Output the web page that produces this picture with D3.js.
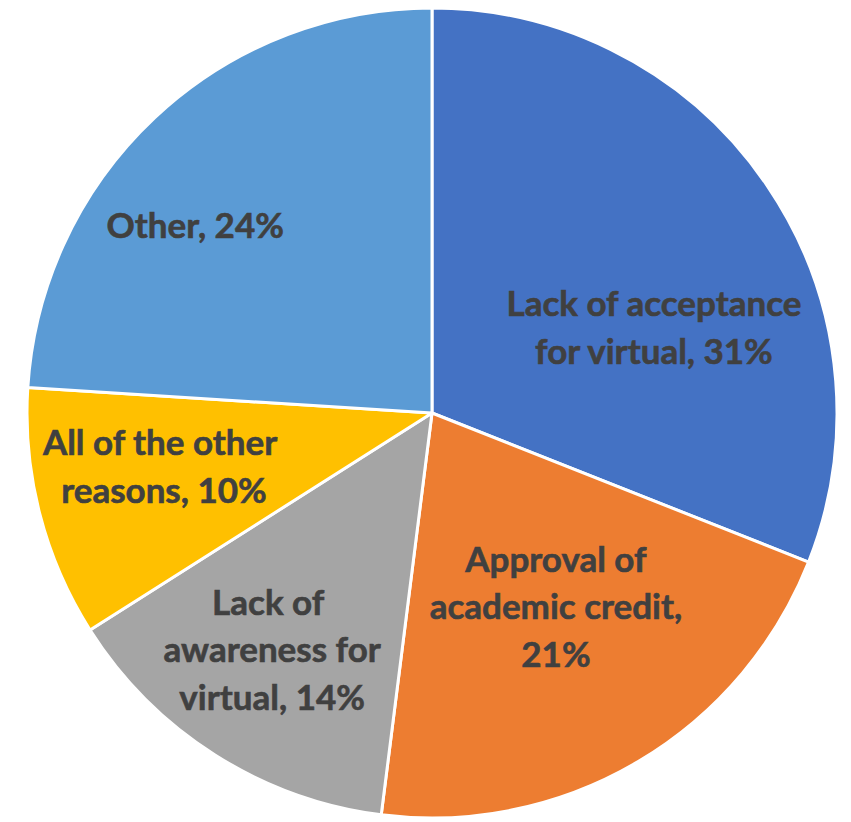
<!DOCTYPE html>
<html><head><meta charset="utf-8">
<script src="https://cdn.jsdelivr.net/npm/d3@7"></script>
<style>html,body{margin:0;padding:0;background:#fff;}</style>
</head><body><svg id="c" width="851" height="822"></svg>
<script>
const categories = ["Lack of acceptance for virtual","Approval of academic credit","Lack of awareness for virtual","All of the other reasons","Other"];
const values = [31,21,14,10,24];
const labelLines = [
  ["Lack of acceptance","for virtual, 31%"],
  ["Approval of","academic credit,","21%"],
  ["Lack of ","awareness for","virtual, 14%"],
  ["All of the other ","reasons, 10%"],
  ["Other, 24%"]
];
const colors = ["#4472C4","#ED7D31","#A5A5A5","#FFC000","#5B9BD5"];
// label anchor: angle (deg clockwise from top) and radius fraction
const labelAnchors = [[69.0,0.587],[147.4,0.568],[214.0,0.706],[258.7,0.675],[308.3,0.745]];

const svg = d3.select("#c");
const cx = 432, cy = 413, R = 405;
const g = svg.append("g").attr("transform",`translate(${cx},${cy})`);
const pie = d3.pie().sort(null).value(d=>d)(values);
const arc = d3.arc().innerRadius(0).outerRadius(R);
g.selectAll("path").data(pie).enter().append("path")
  .attr("d",arc).attr("fill",(d,i)=>colors[i])
  .attr("stroke","#fff").attr("stroke-width",3).attr("stroke-linejoin","round");

const font = "Lato, 'Open Sans', sans-serif";
const probe = g.append("text").attr("font-family",font).attr("font-weight","bold").attr("font-size",100).text("Lack of acceptance");
const w100 = probe.node().getComputedTextLength();
probe.remove();
const fs = 100*295/w100;
const lh = 47.5;

labelLines.forEach((lines,i)=>{
  const a = labelAnchors[i][0]*Math.PI/180, r = labelAnchors[i][1]*R;
  const x = r*Math.sin(a), y = -r*Math.cos(a);
  const t = g.append("text").attr("font-family",font).attr("font-weight","bold")
    .attr("font-size",fs).attr("fill","#404040").attr("stroke","#404040").attr("stroke-width",0.6)
    .attr("text-anchor","middle")
    .attr("xml:space","preserve").style("white-space","pre");
  lines.forEach((l,j)=>{
    t.append("tspan").attr("x",x).attr("y",y+(j-(lines.length-1)/2)*lh).attr("dy","0.35em").text(l);
  });
});
</script></body></html>
